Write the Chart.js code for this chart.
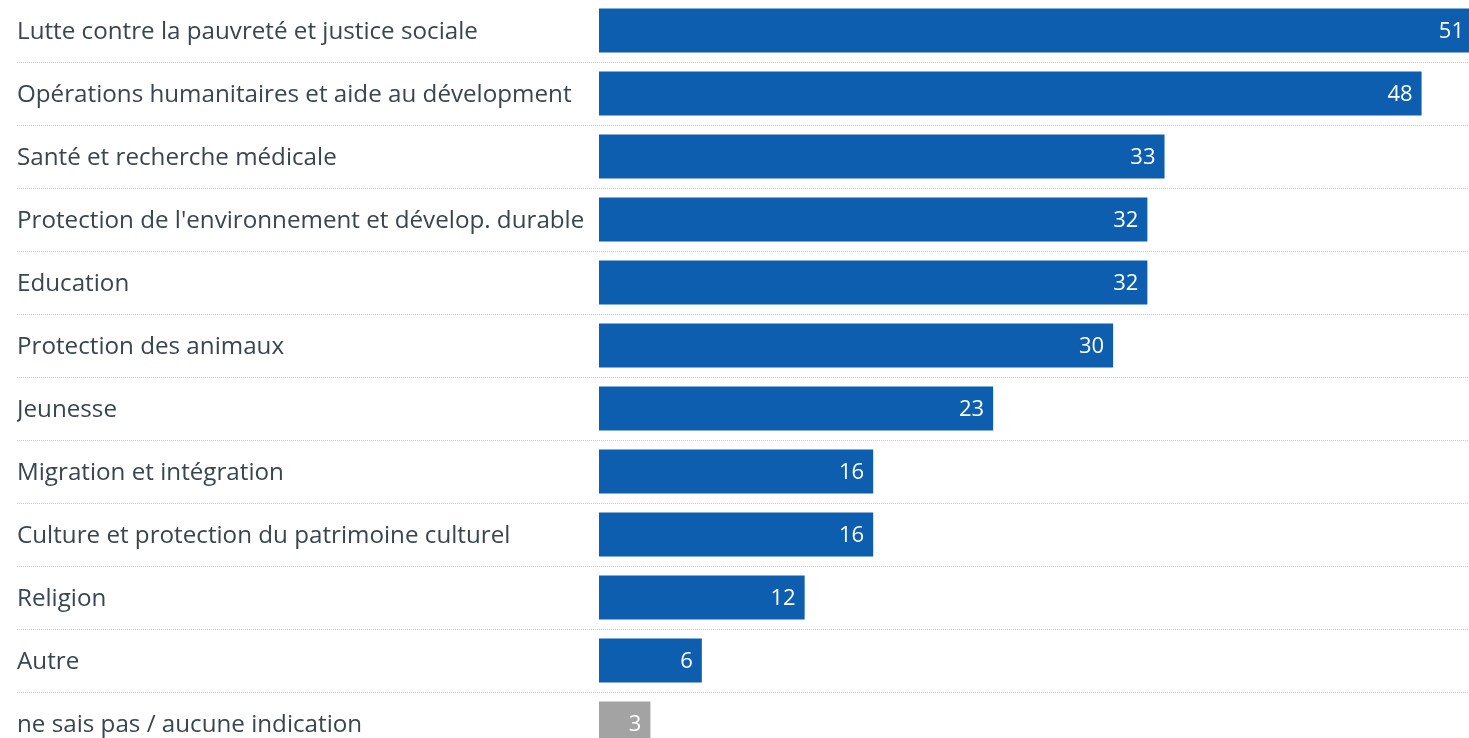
<!DOCTYPE html>
<html>
<head>
<meta charset="utf-8">
<script src="https://cdn.jsdelivr.net/npm/chart.js@4/dist/chart.umd.min.js"></script>
<style>
    html, body { margin: 0; padding: 0; background: #fff; overflow: hidden; }
    #wrap { position: relative; width: 1473px; height: 756px; margin-top: -1px; }
</style>
</head>
<body>
<div id="wrap"><canvas id="barChart"></canvas></div>
<script>
const categories = [
    'Lutte contre la pauvreté et justice sociale',
    'Opérations humanitaires et aide au dévelopment',
    'Santé et recherche médicale',
    "Protection de l'environnement et dévelop. durable",
    'Education',
    'Protection des animaux',
    'Jeunesse',
    'Migration et intégration',
    'Culture et protection du patrimoine culturel',
    'Religion',
    'Autre',
    'ne sais pas / aucune indication'
];
const values = [51, 48, 33, 32, 32, 30, 23, 16, 16, 12, 6, 3];
const noAnswer = 'ne sais pas / aucune indication';

const BLUE = '#0d5eae';
const GREY = '#a3a3a3';
const TEXT = '#39454f';
const FONT = '"Open Sans", "Noto Sans", sans-serif';

// dotted separators running under the labels too
const rowLines = {
    id: 'rowLines',
    beforeDatasetsDraw(chart) {
        const y = chart.scales.y;
        const ctx = chart.ctx;
        ctx.save();
        ctx.strokeStyle = '#c8c8c8';
        ctx.lineWidth = 1;
        ctx.setLineDash([1, 1]);
        for (let i = 0; i < categories.length - 1; i++) {
            const yy = Math.round((y.getPixelForValue(i) + y.getPixelForValue(i + 1)) / 2) + 0.5;
            ctx.beginPath();
            ctx.moveTo(17, yy);
            ctx.lineTo(chart.width, yy);
            ctx.stroke();
        }
        ctx.restore();
    }
};

const barValues = {
    id: 'barValues',
    afterDatasetsDraw(chart) {
        const ctx = chart.ctx;
        const meta = chart.getDatasetMeta(0);
        ctx.save();
        ctx.fillStyle = '#ffffff';
        ctx.font = '22px ' + FONT;
        ctx.textAlign = 'right';
        ctx.textBaseline = 'middle';
        meta.data.forEach((bar, i) => {
            ctx.fillText(String(values[i]), bar.x - 9, bar.y + 1);
        });
        ctx.restore();
    }
};

new Chart(document.getElementById('barChart'), {
    type: 'bar',
    data: {
        labels: categories,
        datasets: [{
            data: values,
            backgroundColor: c => categories[c.dataIndex] === noAnswer ? GREY : BLUE,
            barPercentage: 0.7,
            categoryPercentage: 1.0,
            borderWidth: 0
        }]
    },
    options: {
        indexAxis: 'y',
        responsive: true,
        maintainAspectRatio: false,
        animation: false,
        layout: { padding: { left: 17, right: 0, top: 0, bottom: 0 } },
        plugins: {
            legend: { display: false },
            tooltip: { enabled: false }
        },
        scales: {
            x: {
                display: false,
                min: 0,
                max: 51
            },
            y: {
                grid: { display: false },
                border: { display: false },
                ticks: {
                    crossAlign: 'far',
                    color: TEXT,
                    font: { family: FONT, size: 24.2, lineHeight: 0.05 },
                    padding: 0,
                    labelOffset: 2
                },
                afterFit(scale) {
                    scale.width = 582;
                    scale.paddingTop = 0;
                    scale.paddingBottom = 0;
                }
            }
        }
    },
    plugins: [rowLines, barValues]
});
</script>
</body>
</html>
